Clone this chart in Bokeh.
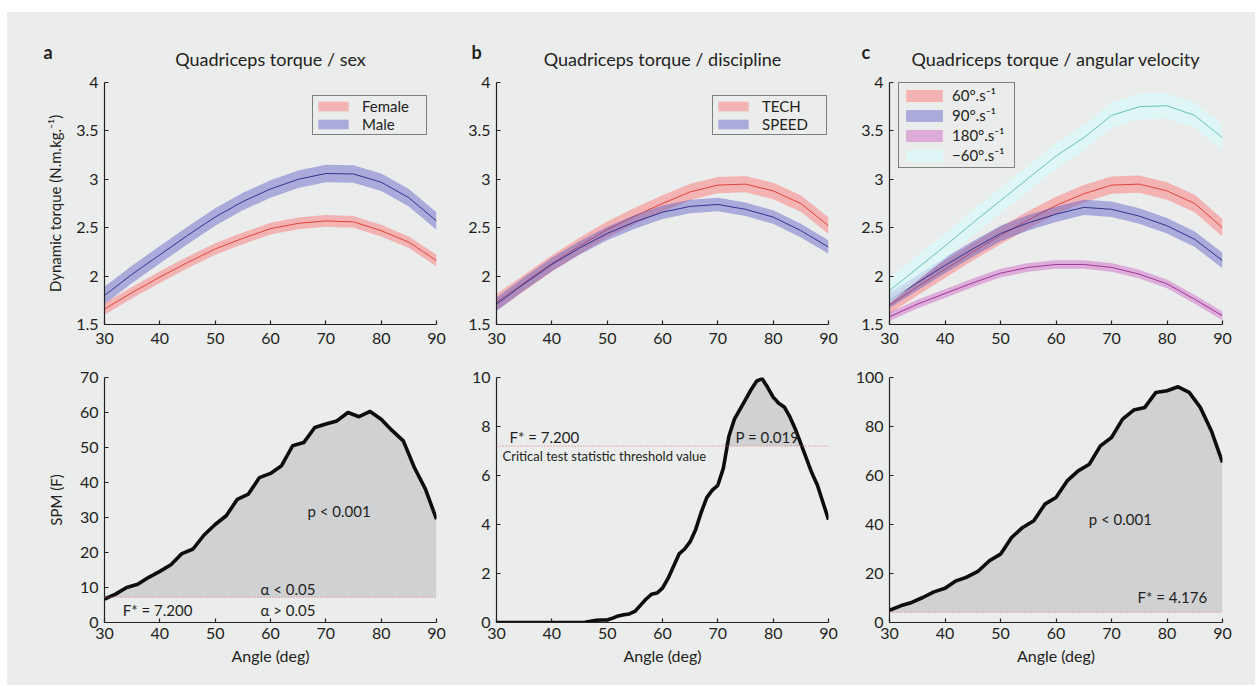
import numpy as np
from bokeh.plotting import figure
from bokeh.models import Range1d, FixedTicker, Label, Legend, LegendItem, Span, Spacer, Title
from bokeh.layouts import column, row
from bokeh.embed import file_html
from bokeh.resources import INLINE

FONT = "Lato"
BG = "#ebecec"
TXT = "#231f20"

# ---------------- data ----------------
angle5 = [30, 35, 40, 45, 50, 55, 60, 65, 70, 75, 80, 85, 90]

# panel a (sex)
female = [1.66, 1.83, 1.99, 2.14, 2.28, 2.39, 2.49, 2.545, 2.57, 2.56, 2.47, 2.35, 2.16]
male = [1.80, 2.02, 2.22, 2.42, 2.61, 2.77, 2.90, 3.00, 3.06, 3.055, 2.97, 2.81, 2.57]
female_sd = 0.06
male_sd = 0.09

# panel b (discipline)
tech = [1.73, 1.93, 2.13, 2.31, 2.48, 2.62, 2.75, 2.87, 2.94, 2.95, 2.88, 2.75, 2.52]
speed = [1.71, 1.92, 2.12, 2.29, 2.44, 2.56, 2.66, 2.72, 2.74, 2.69, 2.61, 2.47, 2.30]
tech_sd = 0.085
speed_sd = 0.07

# panel c (angular velocity)
v60 = [1.70, 1.89, 2.07, 2.25, 2.42, 2.58, 2.73, 2.85, 2.94, 2.95, 2.88, 2.75, 2.50]
v90 = [1.75, 1.93, 2.11, 2.28, 2.44, 2.55, 2.64, 2.71, 2.69, 2.62, 2.52, 2.38, 2.16]
v180 = [1.58, 1.71, 1.82, 1.93, 2.03, 2.09, 2.12, 2.12, 2.09, 2.02, 1.92, 1.76, 1.59]
vneg60 = [1.85, 2.08, 2.31, 2.55, 2.78, 3.01, 3.24, 3.43, 3.66, 3.75, 3.76, 3.66, 3.43]
v60_sd = 0.09
v90_sd = 0.08
v180_sd = 0.045
vneg60_sd = 0.13

# SPM curves
angle2 = list(range(30, 91, 2))
spm_sex = [6.7, 8.1, 10.0, 10.9, 12.9, 14.6, 16.5, 19.7, 21.0, 25.0, 28.0, 30.5, 35.2, 36.7,
           41.4, 42.6, 44.8, 50.5, 51.4, 55.7, 56.7, 57.6, 60.0, 58.8, 60.3, 58.1, 54.8, 51.9,
           44.3, 38.1, 29.5]
angle1 = list(range(30, 91, 1))
spm_disc = [0, 0, 0, 0, 0, 0, 0, 0, 0, 0, 0, 0, 0, 0, 0, 0,
            0.01, 0.05, 0.09, 0.1, 0.1, 0.18, 0.27, 0.32, 0.35, 0.45, 0.7, 0.95, 1.15, 1.2,
            1.4, 1.8, 2.3, 2.8, 3.0, 3.3, 3.8, 4.5, 5.1, 5.4, 5.6, 6.3, 7.6, 8.3, 8.7,
            9.1, 9.5, 9.85, 9.95, 9.6, 9.2, 8.95, 8.8, 8.4, 7.9, 7.3, 6.7, 6.1, 5.6, 4.9, 4.2]
spm_vel = [5.0, 6.8, 8.2, 10.2, 12.5, 14.0, 17.0, 18.6, 21.0, 25.2, 27.9, 34.7, 38.8, 41.5,
           48.3, 51.0, 57.8, 61.9, 64.6, 72.1, 75.5, 83.0, 86.7, 87.8, 93.9, 94.6, 96.2, 93.9,
           87.8, 78.2, 65.3]
thr_sex = 7.2
thr_disc = 7.2
thr_vel = 4.176

x_ticks = [30, 40, 50, 60, 70, 80, 90]
top_ticks = [1.5, 2, 2.5, 3, 3.5, 4]
top_tick_labels = ["1.5", "2", "2.5", "3", "3.5", "4"]

# colors (band base color, alpha, line color)
RED = ("#ff6e6e", 0.45, "#e0433a")
BLUE = ("#5a5ac8", 0.45, "#34348f")
MAG = ("#c850be", 0.40, "#a0359a")
CYAN = ("#d8fcfc", 0.65, "#68c0b5")


def base_fig(width, height, left, right, top, bottom, yr):
    p = figure(width=width, height=height, x_range=Range1d(30, 90), y_range=Range1d(*yr),
               output_backend="svg", toolbar_location=None,
               min_border_left=left, min_border_right=right,
               min_border_top=top, min_border_bottom=bottom,
               background_fill_color=BG, border_fill_color=BG, outline_line_color=None)
    p.grid.visible = False
    for ax in (p.xaxis[0], p.yaxis[0]):
        ax.major_tick_in = 4
        ax.major_tick_out = 0
        ax.minor_tick_line_color = None
        ax.axis_line_color = "#222222"
        ax.axis_line_width = 1.2
        ax.major_tick_line_color = "#222222"
        ax.major_tick_line_width = 1.2
        ax.major_label_text_font = FONT
        ax.major_label_text_font_size = "16px"
        ax.major_label_text_color = TXT
        ax.axis_label_text_font = FONT
        ax.axis_label_text_font_style = "normal"
        ax.axis_label_text_color = TXT
        ax.axis_label_text_font_size = "16px"
    p.xaxis[0].ticker = FixedTicker(ticks=x_ticks)
    p.xaxis[0].major_label_standoff = 5
    p.yaxis[0].major_label_standoff = 6
    return p


def add_text(p, x, y, txt, size="15px", align="left"):
    p.add_layout(Label(x=x, y=y, text=txt, text_font=FONT, text_font_size=size,
                       text_color=TXT, text_align=align, text_baseline="middle"))


def band(p, mean, sd, col):
    m = np.array(mean)
    r = p.varea(x=angle5, y1=m - sd, y2=m + sd, fill_color=col[0], fill_alpha=col[1])
    p.line(angle5, mean, line_color=col[2], line_width=1)
    return r


def top_fig(width, left, right, letter, letter_off, title, series, legend_loc, leg):
    p = base_fig(width, 343, left, right, 70, 31, (1.5, 4))
    p.xaxis[0].major_label_standoff = 8
    p.yaxis[0].ticker = FixedTicker(ticks=top_ticks)
    p.yaxis[0].major_label_overrides = {t: l for t, l in zip(top_ticks, top_tick_labels)}
    items = []
    for name, mean, sd, col in series:
        r = band(p, mean, sd, col)
        items.append(LegendItem(label=name, renderers=[r]))
    lg = Legend(items=items, location=legend_loc, border_line_color="#111111",
                border_line_width=1.3, background_fill_color=BG, background_fill_alpha=1,
                padding=leg[5], spacing=0, margin=0,
                glyph_width=leg[0], glyph_height=leg[1], label_height=leg[2],
                label_standoff=leg[3], label_width=leg[4],
                label_text_font=FONT, label_text_font_size="15px", label_text_color=TXT)
    p.add_layout(lg, "center")
    p.add_layout(Title(text=title, align="center", text_font=FONT, text_font_size="18px",
                       text_font_style="normal", text_color=TXT, standoff=25), "above")
    p.add_layout(Title(text=letter, align="left", offset=letter_off, text_font=FONT,
                       text_font_size="18px", text_font_style="bold", text_color=TXT,
                       standoff=-58), "above")
    return p


def bottom_fig(width, left, right, yr, yticks, angle, spm, thr):
    p = base_fig(width, 330, left, right, 22, 63, yr)
    p.yaxis[0].ticker = FixedTicker(ticks=yticks)
    s = np.array(spm, dtype=float)
    p.varea(x=angle, y1=np.full_like(s, thr), y2=np.maximum(s, thr),
            fill_color="#d0d1d3", fill_alpha=1)
    p.add_layout(Span(location=thr, dimension="width", line_color="#e0706a",
                      line_width=1, line_dash="1 2"))
    p.line(angle, spm, line_color="#0d0d0d", line_width=3.6, line_join="round")
    p.xaxis[0].axis_label = "Angle (deg)"
    p.xaxis[0].axis_label_standoff = 4
    return p


pa = top_fig(455, 97, 26, "a", -61, "Quadriceps torque / sex",
             [("Female", female, female_sd, RED), ("Male", male, male_sd, BLUE)],
             (208, 189), (38, 12, 18, 10, 63, 1))
pa.yaxis[0].axis_label = "Dynamic torque (N.m.kg.\u207b\u00b9)"
pa.yaxis[0].axis_label_standoff = 9
pa.yaxis[0].axis_label_text_font_size = "15px"

pb = top_fig(390, 34, 24, "b", -25, "Quadriceps torque / discipline",
             [("TECH", tech, tech_sd, RED), ("SPEED", speed, speed_sd, BLUE)],
             (216, 189), (38, 12, 18, 10, 63, 1))

pc = top_fig(403, 37, 33, "c", -28, "Quadriceps torque / angular velocity",
             [("60°.s\u207b\u00b9", v60, v60_sd, RED), ("90°.s\u207b\u00b9", v90, v90_sd, BLUE),
              ("180°.s\u207b\u00b9", v180, v180_sd, MAG), ("\u221260°.s\u207b\u00b9", vneg60, vneg60_sd, CYAN)],
             (9, 156), (46, 15, 20, 5, 60, 2))

qa = bottom_fig(455, 97, 26, (0, 70), [0, 10, 20, 30, 40, 50, 60, 70], angle2, spm_sex, thr_sex)
qa.yaxis[0].axis_label = "SPM (F)"
qa.yaxis[0].axis_label_standoff = 12
qa.yaxis[0].axis_label_text_font_size = "15px"
add_text(qa, 66.7, 32, "p < 0.001")
add_text(qa, 58.2, 9.7, "\u03b1 < 0.05")
add_text(qa, 58.2, 3.7, "\u03b1 > 0.05")
add_text(qa, 33.3, 3.7, "F* = 7.200")

qb = bottom_fig(390, 34, 24, (0, 10), [0, 2, 4, 6, 8, 10], angle1, spm_disc, thr_disc)
add_text(qb, 32.35, 7.59, "F* = 7.200")
add_text(qb, 73.2, 7.59, "P = 0.019")
add_text(qb, 31.1, 6.78, "Critical test statistic threshold value", size="13px")

qc = bottom_fig(403, 37, 33, (0, 100), [0, 20, 40, 60, 80, 100], angle2, spm_vel, thr_vel)
add_text(qc, 65.9, 42.4, "p < 0.001")
add_text(qc, 74.7, 10.6, "F* = 4.176")

gray = {"background-color": BG}
inner = column(row(pa, pb, pc, styles=gray), row(qa, qb, qc, styles=gray), styles=gray)
layout = column(Spacer(width=1255, height=12), row(Spacer(width=7, height=673), inner))

open("out.html", "w").write(file_html(layout, INLINE))
